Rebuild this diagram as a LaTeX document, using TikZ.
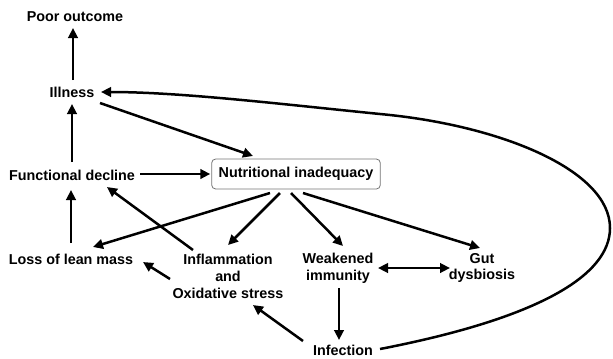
\documentclass[tikz,border=0pt]{standalone}
\usepackage{fontspec}
\setmainfont{Liberation Sans}
\usetikzlibrary{arrows.meta,calc}
\begin{document}
\begin{tikzpicture}[x=1bp,y=-1bp,
  lbl/.style={font=\fontsize{14.4}{17}\selectfont\bfseries, inner sep=0pt, align=center},
  boxed/.style={lbl, draw=black!55, line width=0.8bp, rounded corners=4bp, minimum height=30bp, inner xsep=7bp},
  arr/.style={line width=2.5bp, -{Triangle[length=10bp,width=9.5bp]}},
  darr/.style={line width=2.5bp, {Triangle[length=10bp,width=9.5bp]}-{Triangle[length=10bp,width=9.5bp]}}]
\useasboundingbox (0,0) rectangle (613,358);
\node[lbl] (poor) at (75,17) {Poor outcome};
\node[lbl] (illness) at (72,92) {Illness};
\node[lbl] (fd) at (72,175) {Functional decline};
\node[boxed] (ni) at (296,174) {Nutritional inadequacy};
\node[lbl] (loss) at (71,259) {Loss of lean mass};
\node[lbl] (infl) at (228,276) {Inflammation\\and\\Oxidative stress};
\node[lbl] (weak) at (338,268) {Weakened\\immunity};
\node[lbl] (gut) at (482,268) {Gut\\dysbiosis};
\node[lbl] (inf) at (343,350) {Infection};

\draw[arr] ($(illness)+(1,-12)$) -- ($(poor)+(-2,11)$);
\draw[arr] ($(fd)+(0,-13)$) -- ($(illness)+(0,12)$);
\draw[arr] ($(loss)+(0,-16)$) -- ($(fd)+(-1,15)$);
\draw[arr] ($(fd)+(68,-1)$) -- ($(ni.west)+(-1,0)$);
\draw[arr] ($(illness)+(28,11)$) -- ($(ni)+(-43,-18)$);
\draw[arr] ($(ni)+(-26,19)$) -- ($(loss)+(22,-12)$);
\draw[arr] ($(ni)+(-16,19)$) -- ($(infl)+(0,-31)$);
\draw[arr] ($(infl)+(-35,-26)$) -- ($(fd)+(35,12)$);
\draw[arr] ($(infl)+(-58,3)$) -- ($(loss)+(72,3)$);
\draw[arr] ($(ni)+(-5,19)$) -- ($(weak)+(5,-22)$);
\draw[arr] ($(ni)+(7,19)$) -- ($(gut)+(-2,-20)$);
\draw[darr] ($(weak)+(40,0)$) -- ($(gut)+(-32,0)$);
\draw[arr] ($(weak)+(1,20)$) -- ($(inf)+(-4,-10)$);
\draw[arr] ($(inf)+(-40,-9)$) -- ($(infl)+(25,29)$);
\draw[arr] ($(inf)+(37,-1)$) .. controls (540,318) and (610,275) .. (610,228)
  .. controls (610,170) and (500,125) .. (380,114)
  .. controls (280,104) and (180,92) .. ($(illness)+(29,0)$);
\end{tikzpicture}
\end{document}
